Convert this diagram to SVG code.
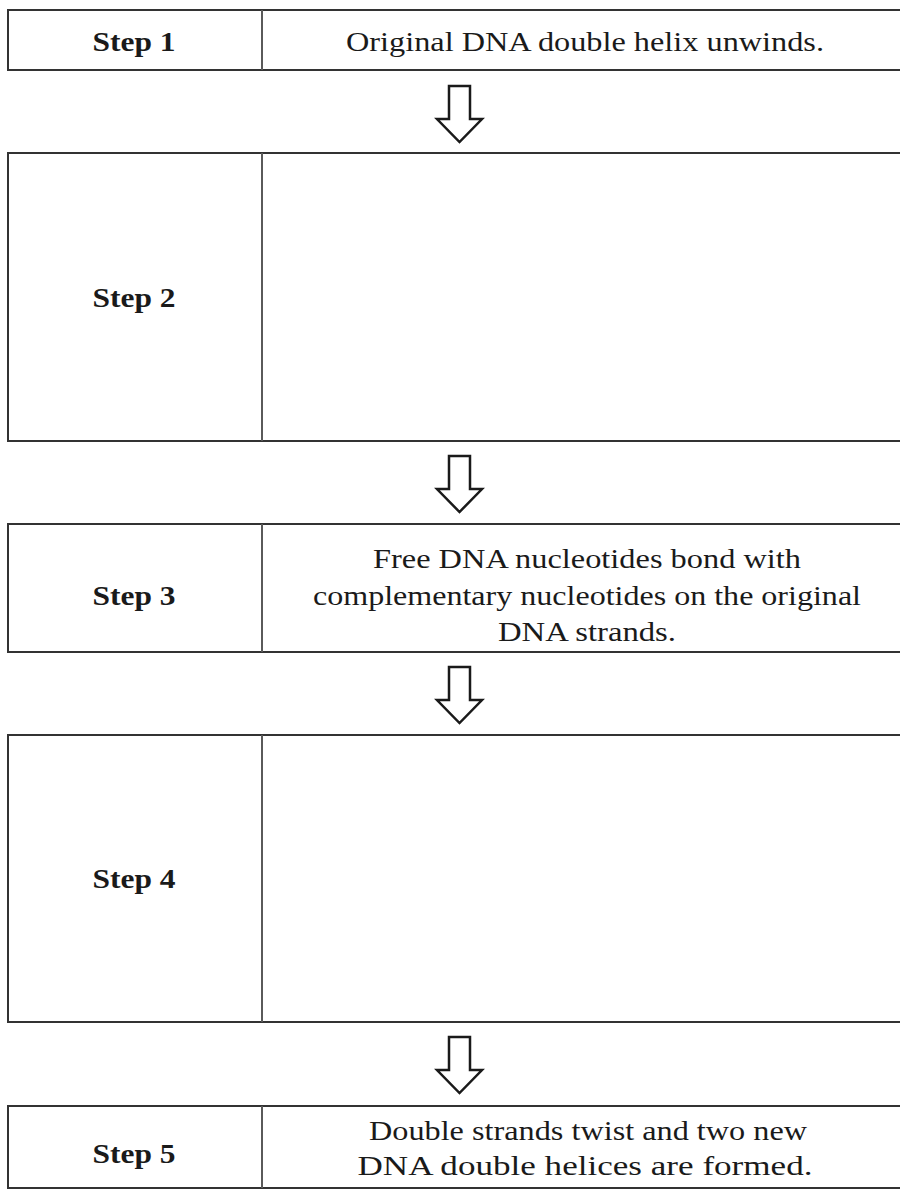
<svg xmlns="http://www.w3.org/2000/svg" width="900" height="1200" viewBox="0 0 900 1200">
<style>
.box{fill:#fff;stroke:#333;stroke-width:2}
.div{stroke:#5a5a5a;stroke-width:2}
.lbl{font-family:"Liberation Serif","Times New Roman",serif;font-weight:bold;font-size:28px;fill:#1a1a1a;text-anchor:middle}
.txt{font-family:"Liberation Serif","Times New Roman",serif;font-size:28px;fill:#1a1a1a;text-anchor:middle}
.arr{fill:#fff;stroke:#1a1a1a;stroke-width:2.5;stroke-linejoin:miter}
</style>
<defs>
<path id="arrow" class="arr" d="M-10.5,0 H10.5 V33 H22.5 L0,56 L-22.5,33 H-10.5 Z"/>
</defs>
<rect width="900" height="1200" fill="#fff"/>
<g id="step1">
<rect class="box" x="8" y="10" width="910" height="60"/>
<line class="div" x1="262" y1="10" x2="262" y2="70"/>
<text class="lbl" x="134" y="51" textLength="83" lengthAdjust="spacingAndGlyphs">Step 1</text>
<text class="txt" x="585" y="51" textLength="478" lengthAdjust="spacingAndGlyphs">Original DNA double helix unwinds.</text>
</g>
<g id="step2">
<rect class="box" x="8" y="153" width="910" height="288"/>
<line class="div" x1="262" y1="153" x2="262" y2="441"/>
<text class="lbl" x="134" y="307" textLength="83" lengthAdjust="spacingAndGlyphs">Step 2</text>
</g>
<g id="step3">
<rect class="box" x="8" y="524" width="910" height="128"/>
<line class="div" x1="262" y1="524" x2="262" y2="652"/>
<text class="lbl" x="134" y="605" textLength="83" lengthAdjust="spacingAndGlyphs">Step 3</text>
<text class="txt" x="587" y="568" textLength="428" lengthAdjust="spacingAndGlyphs">Free DNA nucleotides bond with</text>
<text class="txt" x="587" y="605" textLength="548" lengthAdjust="spacingAndGlyphs">complementary nucleotides on the original</text>
<text class="txt" x="587" y="641" textLength="178" lengthAdjust="spacingAndGlyphs">DNA strands.</text>
</g>
<g id="step4">
<rect class="box" x="8" y="735" width="910" height="287"/>
<line class="div" x1="262" y1="735" x2="262" y2="1022"/>
<text class="lbl" x="134" y="888" textLength="83" lengthAdjust="spacingAndGlyphs">Step 4</text>
</g>
<g id="step5">
<rect class="box" x="8" y="1106" width="910" height="82"/>
<line class="div" x1="262" y1="1106" x2="262" y2="1188"/>
<text class="lbl" x="134" y="1163" textLength="83" lengthAdjust="spacingAndGlyphs">Step 5</text>
<text class="txt" x="588" y="1140" textLength="438" lengthAdjust="spacingAndGlyphs">Double strands twist and two new</text>
<text class="txt" x="585" y="1175" textLength="455" lengthAdjust="spacingAndGlyphs">DNA double helices are formed.</text>
</g>
<g id="connectors">
<use href="#arrow" x="459.5" y="86"/>
<use href="#arrow" x="459.5" y="456"/>
<use href="#arrow" x="459.5" y="667"/>
<use href="#arrow" x="459.5" y="1037"/>
</g>
</svg>
